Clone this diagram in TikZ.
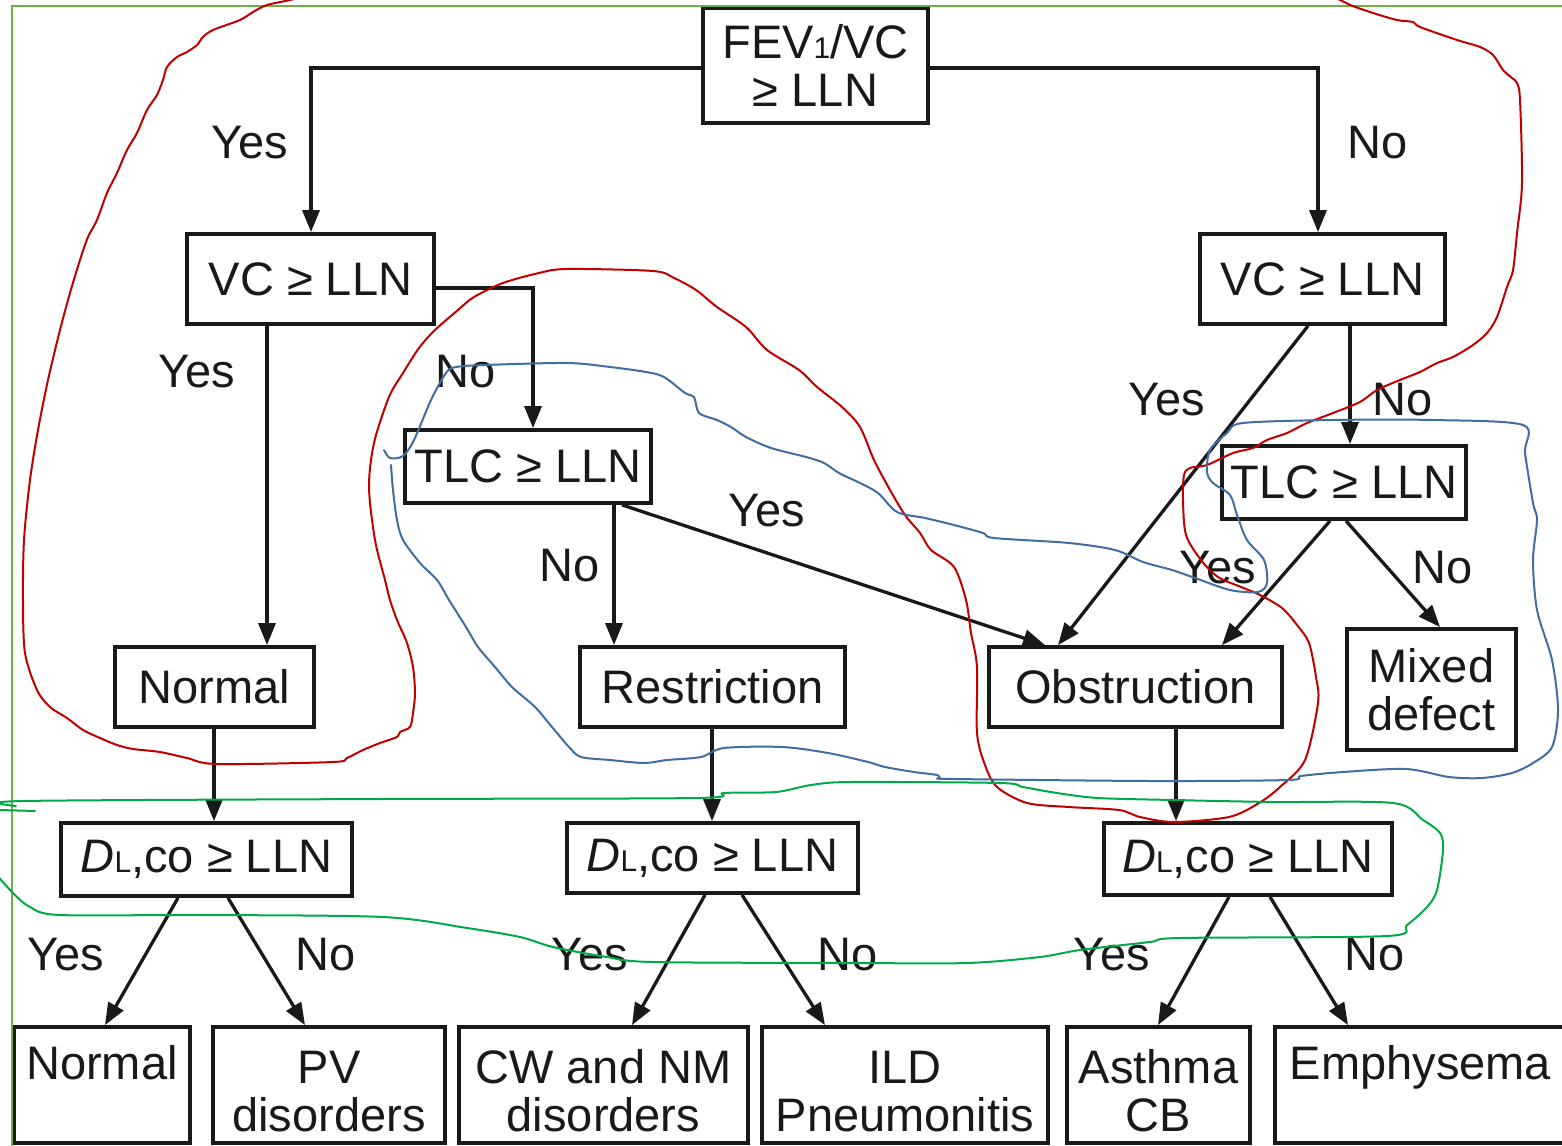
\documentclass[tikz,border=0pt]{standalone}
\usepackage{fontspec}
\setmainfont{Liberation Sans}
\usetikzlibrary{arrows.meta}
\newcommand\dfont{\fontsize{47}{48}\selectfont}
\newcommand\smallsub[1]{{\fontsize{30}{30}\selectfont #1}}
\newcommand\lowstrut{\rule{0pt}{46pt}}
\definecolor{inkred}{RGB}{192,0,0}
\definecolor{inkblue}{RGB}{65,110,160}
\definecolor{inkgreen}{RGB}{0,170,70}
\definecolor{framegreen}{RGB}{110,175,70}
\definecolor{ink}{RGB}{25,25,25}
\begin{document}
\begin{tikzpicture}[x=1pt,y=-1pt,
  box/.style={draw=ink, fill=white, line width=3.8pt, inner sep=0pt, align=center, font=\dfont, text=ink},
  lbl/.style={font=\dfont, text=ink, inner sep=0pt},
  arr/.style={draw=ink, line width=3.3pt, -{Triangle[length=22pt,width=17pt]}},
  redink/.style={draw=inkred, line width=2pt, line join=round, line cap=round},
  blueink/.style={draw=inkblue, line width=2pt, line join=round, line cap=round},
  greenink/.style={draw=inkgreen, line width=2pt, line join=round, line cap=round},
  frameline/.style={draw=framegreen, line width=1.6pt}]
\useasboundingbox (0,0) rectangle (1562,1145);
\clip (0,0) rectangle (1562,1145);
\fill[white] (0,0) rectangle (1562,1145);

% boxes
\node[box, minimum width=225pt, minimum height=115pt] (fev) at (815.5,65.5) {FEV\smallsub{1}/VC\\≥ LLN};
\node[box, minimum width=247pt, minimum height=90pt] (vcl) at (310.5,279) {VC ≥ LLN};
\node[box, minimum width=245pt, minimum height=90pt] (vcr) at (1322.5,279) {VC ≥ LLN};
\node[box, minimum width=246pt, minimum height=73pt] (tlcl) at (528,466.5) {TLC ≥ LLN};
\node[box, minimum width=244pt, minimum height=73pt] (tlcr) at (1344,482.5) {TLC ≥ LLN};
\node[box, minimum width=199pt, minimum height=80pt] (nrm) at (214.5,687) {Normal};
\node[box, minimum width=265pt, minimum height=80pt] (rst) at (712.5,687) {Restriction};
\node[box, minimum width=293pt, minimum height=80pt] (obs) at (1135.5,687) {Obstruction};
\node[box, minimum width=169pt, minimum height=121pt] (mix) at (1431.5,689.5) {Mixed\\defect};
\node[box, minimum width=291pt, minimum height=73pt] (dl1) at (206.5,859.5) {\textit{D}\smallsub{L},co ≥ LLN};
\node[box, minimum width=291pt, minimum height=70pt] (dl2) at (712.5,858) {\textit{D}\smallsub{L},co ≥ LLN};
\node[box, minimum width=288pt, minimum height=72pt] (dl3) at (1248,859) {\textit{D}\smallsub{L},co ≥ LLN};
\node[box, minimum width=176pt, minimum height=116pt] (b1) at (102,1085) {\lowstrut Normal\\\phantom{g}};
\node[box, minimum width=232pt, minimum height=116pt] (b2) at (329,1085) {\lowstrut PV\\disorders};
\node[box, minimum width=289pt, minimum height=116pt] (b3) at (603.5,1085) {\lowstrut CW and NM\\disorders};
\node[box, minimum width=286pt, minimum height=116pt] (b4) at (905,1085) {\lowstrut ILD\\Pneumonitis};
\node[box, minimum width=183pt, minimum height=116pt] (b5) at (1158.5,1085) {\lowstrut Asthma\\CB};
\node[box, minimum width=325pt, minimum height=116pt] (b6) at (1437.5,1085) {\lowstrut\hspace*{-34pt}Emphysema\\\phantom{g}};

% connectors
\draw[arr] (fev.west |- 0,68) -| (311,0 |- vcl.north);
\draw[arr] (fev.east |- 0,68) -| (1318,0 |- vcr.north);
\draw[arr] (vcl.east |- 0,288) -| (533,0 |- tlcl.north);
\draw[arr] (267,0 |- vcl.south) -- (267,0 |- nrm.north);
\draw[arr] (614,0 |- tlcl.south) -- (614,0 |- rst.north);
\draw[arr] (622,0 |- tlcl.south) -- (1045,0 |- obs.north);
\draw[arr] (1308,0 |- vcr.south) -- (1058,0 |- obs.north);
\draw[arr] (1350,0 |- vcr.south) -- (1350,0 |- tlcr.north);
\draw[arr] (1330,0 |- tlcr.south) -- (1222,0 |- obs.north);
\draw[arr] (1346,0 |- tlcr.south) -- (1440,0 |- mix.north);
\draw[arr] (214,0 |- nrm.south) -- (214,0 |- dl1.north);
\draw[arr] (712,0 |- rst.south) -- (712,0 |- dl2.north);
\draw[arr] (1176,0 |- obs.south) -- (1176,0 |- dl3.north);
\draw[arr] (178,0 |- dl1.south) -- (105,0 |- b1.north);
\draw[arr] (228,0 |- dl1.south) -- (305,0 |- b2.north);
\draw[arr] (705,0 |- dl2.south) -- (632,0 |- b3.north);
\draw[arr] (742,0 |- dl2.south) -- (825,0 |- b4.north);
\draw[arr] (1229,0 |- dl3.south) -- (1158,0 |- b5.north);
\draw[arr] (1270,0 |- dl3.south) -- (1348,0 |- b6.north);

% labels
\node[lbl] (l1) at (250,143) {Yes};
\node[lbl] (l2) at (1378,143) {No};
\node[lbl] (l3) at (197,372) {Yes};
\node[lbl] (l4) at (466,372) {No};
\node[lbl] (l5) at (1167,400) {Yes};
\node[lbl] (l6) at (1403,400) {No};
\node[lbl] (l7) at (767,511) {Yes};
\node[lbl] (l8) at (570,566) {No};
\node[lbl] (l9) at (1218,568) {Yes};
\node[lbl] (l10) at (1443,568) {No};
\node[lbl] (l11) at (66,955) {Yes};
\node[lbl] (l12) at (326,955) {No};
\node[lbl] (l13) at (590,955) {Yes};
\node[lbl] (l14) at (848,955) {No};
\node[lbl] (l15) at (1112,955) {Yes};
\node[lbl] (l16) at (1375,955) {No};

% frame
\draw[frameline] (1600,6) -- (12,6) -- (12,1200);

% red freehand loop
\draw[redink] plot[smooth, tension=0.5] coordinates {
(330,-10) (290,0) (267,5) (253,12) (240,20) (213,30) (203,37) (197,45) (187,52) (177,57) (167,67) (163,80) (157,95) (147,110) (137,133) (127,150) (117,173) (107,193) (97,220) (88,237) (80,260) (70,293) (60,330) (48,380) (38,430) (30,480) (24,540) (23,600) (25,653) (37,690) (50,707) (67,718) (83,730) (100,738) (117,745) (133,749) (160,752) (187,758) (217,764) (333,762) (347,758) (363,750) (380,743) (397,737) (400,732) (410,727) (413,713) (415,693) (413,667) (407,643) (397,620) (390,600) (385,580) (375,540) (369,487) (374,443) (389,397) (403,373) (419,348) (435,330) (458,310) (474,297) (503,283) (539,273) (567,269) (653,271) (674,278) (696,290) (717,307) (746,327) (767,350) (799,370) (817,387) (842,407) (860,427) (874,460) (890,490) (905,515) (920,533) (931,550) (954,567) (966,600) (971,633) (977,667) (977,733) (985,765) (997,787) (1027,803) (1069,807) (1119,810) (1140,817) (1174,822) (1229,817) (1259,803) (1280,787) (1305,760) (1318,703) (1316,677) (1309,643) (1297,625) (1282,608) (1260,595) (1241,587) (1218,577) (1201,560) (1186,535) (1183,500) (1184,475) (1190,468) (1207,465) (1233,453) (1253,448) (1267,440) (1287,433) (1307,423) (1333,413) (1360,402) (1377,390) (1400,380) (1420,372) (1437,363) (1453,357) (1473,345) (1487,333) (1497,317) (1507,287) (1513,270) (1517,233) (1522,183) (1520,100) (1517,83) (1512,78) (1503,70) (1493,55) (1480,47) (1457,40) (1420,27) (1413,22) (1397,20) (1373,13) (1350,5) (1340,0) (1320,-10)};

% blue freehand loop
\draw[blueink] plot[smooth, tension=0.5] coordinates {
(384,450) (390,458) (403,456) (414,440) (431,400) (446,373) (456,367) (485,365) (567,363) (610,367) (646,372) (664,377) (685,393) (694,397) (699,413) (717,420) (731,427) (746,437) (771,448) (806,457) (824,463) (839,473) (860,483) (878,493) (897,512) (925,518) (954,525) (983,533) (994,538) (1069,543) (1115,550) (1143,562) (1172,570) (1195,578) (1230,590) (1258,592) (1267,583) (1264,560) (1247,540) (1237,515) (1230,495) (1213,483) (1207,472) (1210,450) (1227,433) (1243,423) (1333,420) (1433,420) (1523,425) (1525,453) (1533,503) (1537,520) (1533,560) (1537,610) (1552,660) (1558,710) (1552,747) (1533,763) (1512,773) (1482,778) (1449,777) (1406,769) (1343,772) (1301,776) (1288,780) (1153,781) (954,779) (940,778) (937,775) (914,772) (885,767) (868,762) (828,753) (782,747) (724,748) (701,757) (667,760) (644,763) (610,760) (581,757) (569,747) (552,727) (535,707) (512,687) (495,667) (478,647) (466,627) (449,600) (437,580) (420,563) (403,540) (397,520) (393,490) (391,465)};

% green freehand loop
\draw[greenink] plot[smooth, tension=0.5] coordinates {
(16,806) (23,801) (380,799) (696,798) (724,793) (776,792) (811,785) (851,782) (1000,783) (1023,787) (1057,793) (1098,798) (1173,800) (1273,802) (1393,803) (1423,820) (1440,833) (1443,850) (1437,890) (1427,907) (1407,925) (1387,936) (1180,938) (1150,942) (1080,950) (1040,957) (967,963) (853,963) (653,962) (607,957) (553,947) (520,937) (467,928) (383,917) (200,915) (60,915) (30,907) (13,893) (-5,873)};
\draw[greenink] (0,810) -- (35,811);
\end{tikzpicture}
\end{document}
